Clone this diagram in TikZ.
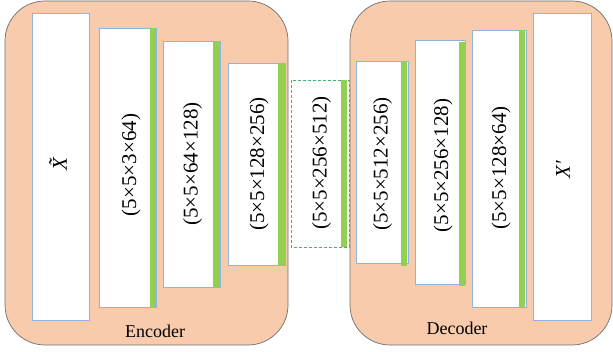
\documentclass[tikz,border=0pt]{standalone}
\usepackage{fontspec}
\setmainfont{Liberation Serif}
\definecolor{peach}{HTML}{F8CBAD}
\definecolor{boxblue}{HTML}{8FB4E3}
\definecolor{bargreen}{HTML}{92D050}
\definecolor{dashgreen}{HTML}{3CB371}
\definecolor{framegray}{HTML}{6E6E6E}
\begin{document}
\begin{tikzpicture}[x=1pt,y=-1pt,
  group/.style={draw=framegray,line width=0.7pt,fill=peach,rounded corners=40pt},
  layerbox/.style={draw=boxblue,line width=0.8pt,fill=white},
  midbox/.style={draw=dashgreen,line width=0.8pt,dashed,dash pattern=on 3pt off 2pt,fill=white},
  bar/.style={fill=bargreen,draw=none},
  lbl/.style={rotate=90,inner sep=0pt,font=\fontsize{21}{24}\selectfont},
  xlbl/.style={rotate=90,inner sep=0pt,font=\fontsize{21}{24}\selectfont\itshape},
  grp/.style={inner sep=0pt,font=\fontsize{18}{21}\selectfont}]
\useasboundingbox (0,0) rectangle (613,352);
% groups
\draw[group] (5,1) rectangle (288,345);
\draw[group] (350,1) rectangle (612,345);
\node[grp] (enc) at (155,331.5) {Encoder};
\node[grp] (dec) at (457,328) {Decoder};
% encoder layers
\draw[layerbox] (32,13) rectangle (89,320);
\node[xlbl] (xin) at (58,164) {\~X};
\draw[layerbox] (99,28) rectangle (156,307);
\fill[bar] (150,28) rectangle (155.5,307);
\node[lbl] (l2) at (131,165) {(5×5×3×64)};
\draw[layerbox] (163,41) rectangle (220,287);
\fill[bar] (212.5,41) rectangle (219.5,287);
\node[lbl] (l3) at (192.5,164) {(5×5×64×128)};
\draw[layerbox] (228,63) rectangle (285.5,265);
\fill[bar] (278,63) rectangle (285,265);
\node[lbl] (l4) at (259,164) {(5×5×128×256)};
% bottleneck
\draw[midbox] (291,80) rectangle (349,247);
\fill[bar] (341,80) rectangle (347,247);
\node[lbl] (l5) at (321.5,163) {(5×5×256×512)};
% decoder layers
\draw[layerbox] (356,61) rectangle (408,263);
\fill[bar] (401,61) rectangle (407,266);
\node[lbl] (l6) at (382.5,164) {(5×5×512×256)};
\draw[layerbox] (415,40) rectangle (465.5,284);
\fill[bar] (459,42) rectangle (464.5,286);
\node[lbl] (l7) at (443,165.5) {(5×5×256×128)};
\draw[layerbox] (472,30) rectangle (526,307);
\fill[bar] (519,30) rectangle (525,307);
\node[lbl] (l8) at (501,168) {(5×5×128×64)};
\draw[layerbox] (533,13) rectangle (591,320);
\node[xlbl] (xout) at (563,170) {X′};
\end{tikzpicture}
\end{document}
